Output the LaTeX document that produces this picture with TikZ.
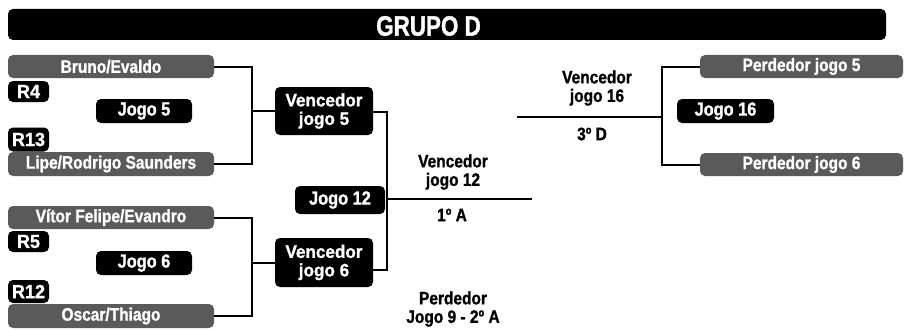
\documentclass[tikz,border=0pt]{standalone}
\usepackage{fontspec}
\setmainfont{Liberation Sans}[FakeStretch=0.86,BoldFeatures={FakeBold=1.2}]
\newfontfamily\titlefont{Liberation Sans}[FakeStretch=0.8,BoldFeatures={FakeBold=1.2}]
\newfontfamily\rfont{Liberation Sans}[FakeStretch=0.95,BoldFeatures={FakeBold=1.2}]
\usetikzlibrary{calc}
\definecolor{boxgray}{HTML}{5A5A5A}
\begin{document}
\begin{tikzpicture}[x=1pt,y=-1pt,
  base/.style={rounded corners=5pt,text=white,inner sep=0pt,font=\bfseries\fontsize{18}{18.5}\selectfont,align=center},
  gbox/.style={base,fill=boxgray},
  bbox/.style={base,fill=black},
  rbox/.style={bbox,minimum width=41pt,font=\rfont\bfseries\fontsize{19}{20}\selectfont},
  jbox/.style={bbox,font=\bfseries\fontsize{19}{20}\selectfont},
  lbl/.style={inner sep=0pt,font=\bfseries\fontsize{18}{18.5}\selectfont,align=center},
  conn/.style={line width=2pt}]
\useasboundingbox (0,0) rectangle (904,329);
% title
\node[bbox,minimum width=878pt,minimum height=31pt] (title) at (447,24.5) {};
\node[text=white,inner sep=0pt,font=\titlefont\bfseries\fontsize{28}{30}\selectfont] (titletext) at (428.5,26) {GRUPO D};
% left column
\node[gbox,minimum width=206pt,minimum height=23pt] (bruno) at (111,66.5) {Bruno/Evaldo};
\node[rbox,minimum height=21pt] (r4) at (28.5,91.5) {R4};
\node[jbox,minimum width=96pt,minimum height=24pt] (jogo5) at (144,111) {Jogo 5};
\node[rbox,minimum height=24pt] (r13) at (28.5,139.5) {R13};
\node[gbox,minimum width=206pt,minimum height=24pt] (lipe) at (111,164) {Lipe/Rodrigo Saunders};
\node[gbox,minimum width=206pt,minimum height=23pt] (vitor) at (111,217.5) {Vítor Felipe/Evandro};
\node[rbox,minimum height=21pt] (r5) at (28.5,241.5) {R5};
\node[jbox,minimum width=96pt,minimum height=24pt] (jogo6) at (144,263) {Jogo 6};
\node[rbox,minimum height=23pt] (r12) at (28.5,291.5) {R12};
\node[gbox,minimum width=206pt,minimum height=24pt] (oscar) at (111,316) {Oscar/Thiago};
% middle
\node[bbox,minimum width=98pt,minimum height=48pt,font=\rfont\bfseries\fontsize{18}{18.5}\selectfont] (v5) at (324,111) {Vencedor\\jogo 5};
\node[bbox,minimum width=98pt,minimum height=49pt,font=\rfont\bfseries\fontsize{18}{18.5}\selectfont] (v6) at (324,262.5) {Vencedor\\jogo 6};
\node[jbox,minimum width=90pt,minimum height=28pt] (jogo12) at (340,200) {Jogo 12};
\node[lbl] (vj12) at (453,172) {Vencedor\\jogo 12};
\node[lbl] (a1) at (452,215) {1º A};
\node[lbl] (perd) at (453,309) {Perdedor\\Jogo 9 - 2º A};
% right
\node[lbl] (vj16) at (597,88) {Vencedor\\jogo 16};
\node[lbl] (d3) at (592,134) {3º D};
\node[gbox,minimum width=203pt,minimum height=23pt] (p5) at (801.5,66.5) {Perdedor jogo 5};
\node[jbox,minimum width=97pt,minimum height=24pt] (jogo16) at (725.5,111) {Jogo 16};
\node[gbox,minimum width=203pt,minimum height=23pt] (p6) at (801.5,164.5) {Perdedor jogo 6};
% connector coordinates
\coordinate (xa) at (252,0);
\coordinate (xb) at (387,0);
\coordinate (xc) at (662,0);
\coordinate (v5o) at (373,112);
\coordinate (v6o) at (373,270);
\coordinate (e12) at (532,199);
\coordinate (s16) at (517,117);
% connectors
\draw[conn] (bruno.east) -- (bruno.east -| xa) -- (lipe.east -| xa) -- (lipe.east);
\draw[conn] (v5.west -| xa) -- (v5.west);
\draw[conn] (vitor.east) -- (vitor.east -| xa) -- (oscar.east -| xa) -- (oscar.east);
\draw[conn] (v6.west -| xa) -- (v6.west);
\draw[conn] (v5o) -- (v5o -| xb) -- (v6o -| xb) -- (v6o);
\draw[conn] (e12 -| xb) -- (e12);
\draw[conn] (p5.west) -- (p5.west -| xc) -- (p6.west -| xc) -- (p6.west);
\draw[conn] (s16) -- (s16 -| xc);
\end{tikzpicture}
\end{document}
